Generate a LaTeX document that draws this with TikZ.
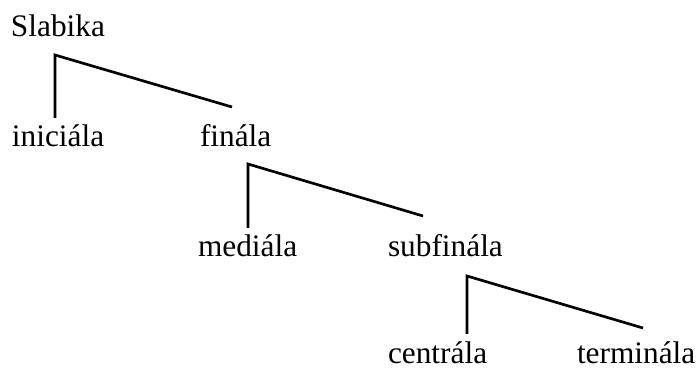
\documentclass[tikz,border=0pt]{standalone}
\usepackage{fontspec}
\setmainfont{Liberation Serif}
\tikzset{
  word/.style={anchor=base west, inner sep=0pt, outer xsep=0pt, outer ysep=5.5pt,
    font=\fontsize{23.5}{28}\selectfont},
  branch/.style={line width=2pt}
}
\begin{document}
\begin{tikzpicture}[x=0.75pt,y=-0.75pt]
\useasboundingbox (0,0) rectangle (699,370);

% words
\node[word] (slabika) at (11,37) {Slabika};
\node[word] (inic) at (12,147) {iniciála};
\node[word] (fin) at (200,147) {finála};
\node[word] (med) at (198,257) {mediála};
\node[word] (subfin) at (388,257) {subfinála};
\node[word] (centr) at (388,363) {centrála};
\node[word] (term) at (577,363) {terminála};

% corners and free ends of the branches
\coordinate (k1) at (55,55);   \coordinate (e1) at (232,107);
\coordinate (k2) at (248,164); \coordinate (e2) at (423,216);
\coordinate (k3) at (467,276); \coordinate (e3) at (643,328);

\draw[branch] (k1 |- inic.north) -- (k1) -- (e1);
\draw[branch] (k2 |- med.north) -- (k2) -- (e2);
\draw[branch] (k3 |- centr.north) -- (k3) -- (e3);
\end{tikzpicture}
\end{document}
